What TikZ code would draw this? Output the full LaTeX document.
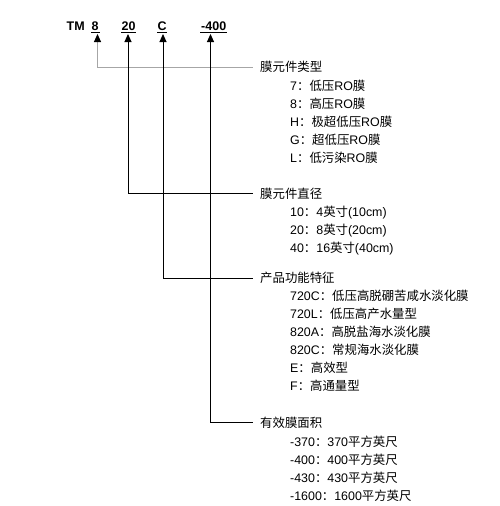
\documentclass[tikz,border=0pt]{standalone}
\usepackage{fontspec}
\setmainfont{Liberation Sans}
\newfontfamily\cjk{Noto Sans CJK SC}
\newcommand{\zh}[1]{{\cjk #1}}
\usetikzlibrary{arrows.meta}
\definecolor{linegray}{HTML}{A6A6A6}
\tikzset{
  code/.style={font=\bfseries\fontsize{12.5}{14}\selectfont, inner sep=0pt, anchor=base west},
  ul/.style={line width=1.3pt},
  conn/.style={line width=1pt, draw=black},
  tip/.style={-{Triangle[width=7pt,length=8pt,color=black]}},
  head/.style={font=\fontsize{12.4}{14}\selectfont, inner sep=0pt, anchor=base west},
  item/.style={font=\fontsize{12.4}{14}\selectfont, inner sep=0pt, anchor=base west},
}
\begin{document}
\begin{tikzpicture}[x=1pt,y=-1pt]
\useasboundingbox (0,0) rectangle (500,506);
% code
\node[code] (tm) at (66.5,30.5) {TM};
\node[code] (d8) at (91.5,30.5) {8};
\node[code] (d20) at (121.5,30.5) {20};
\node[code] (dc) at (157.5,30.5) {C};
\node[code] (d400) at (201,30.5) {-400};
\draw[ul] ([xshift=-0.5pt,yshift=-2pt]d8.base west) -- ([xshift=1pt,yshift=-2pt]d8.base east);
\draw[ul] ([xshift=-0.5pt,yshift=-2pt]d20.base west) -- ([xshift=0.5pt,yshift=-2pt]d20.base east);
\draw[ul] ([xshift=-0.5pt,yshift=-2pt]dc.base west) -- ([xshift=0pt,yshift=-2pt]dc.base east);
\draw[ul] ([xshift=-1pt,yshift=-2pt]d400.base west) -- ([xshift=0.5pt,yshift=-2pt]d400.base east);
\coordinate (a8) at (97.5,34);
\coordinate (a20) at (128,34);
\coordinate (ac) at (163,34);
\coordinate (a400) at (210.5,34);
% headings
\node[head] (h1) at (260,71.5) {\zh{膜元件类型}};
\node[head] (h2) at (260,198.5) {\zh{膜元件直径}};
\node[head] (h3) at (260,282.5) {\zh{产品功能特征}};
\node[head] (h4) at (260,427.5) {\zh{有效膜面积}};
\coordinate (e1) at (252.5,67);
\coordinate (e2) at (252.5,193.5);
\coordinate (e3) at (252.5,278);
\coordinate (e4) at (252.5,422.5);
% connectors
\draw[conn, draw=linegray, tip] (e1) -| (a8);
\draw[conn, tip] (e2) -| (a20);
\draw[conn, tip] (e3) -| (ac);
\draw[conn, tip] (e4) -| (a400);
% group 1
\node[item] (t11) at (290,90.5) {7\zh{：低压}RO\zh{膜}};
\node[item] (t12) at (290,108.5) {8\zh{：高压}RO\zh{膜}};
\node[item] (t13) at (290,126.5) {H\zh{：极超低压}RO\zh{膜}};
\node[item] (t14) at (290,144.5) {G\zh{：超低压}RO\zh{膜}};
\node[item] (t15) at (290,162.5) {L\zh{：低污染}RO\zh{膜}};
% group 2
\node[item] (t21) at (290,216.5) {10\zh{：}4\zh{英寸}(10cm)};
\node[item] (t22) at (290,234.5) {20\zh{：}8\zh{英寸}(20cm)};
\node[item] (t23) at (290,252.5) {40\zh{：}16\zh{英寸}(40cm)};
% group 3
\node[item] (t31) at (290,300.5) {720C\zh{：低压高脱硼苦咸水淡化膜}};
\node[item] (t32) at (290,318.5) {720L\zh{：低压高产水量型}};
\node[item] (t33) at (290,336.5) {820A\zh{：高脱盐海水淡化膜}};
\node[item] (t34) at (290,354.5) {820C\zh{：常规海水淡化膜}};
\node[item] (t35) at (290,372.5) {E\zh{：高效型}};
\node[item] (t36) at (290,390.5) {F\zh{：高通量型}};
% group 4
\node[item] (t41) at (290,446.5) {-370\zh{：}370\zh{平方英尺}};
\node[item] (t42) at (290,464.5) {-400\zh{：}400\zh{平方英尺}};
\node[item] (t43) at (290,482.5) {-430\zh{：}430\zh{平方英尺}};
\node[item] (t44) at (290,500.5) {-1600\zh{：}1600\zh{平方英尺}};
\end{tikzpicture}
\end{document}
